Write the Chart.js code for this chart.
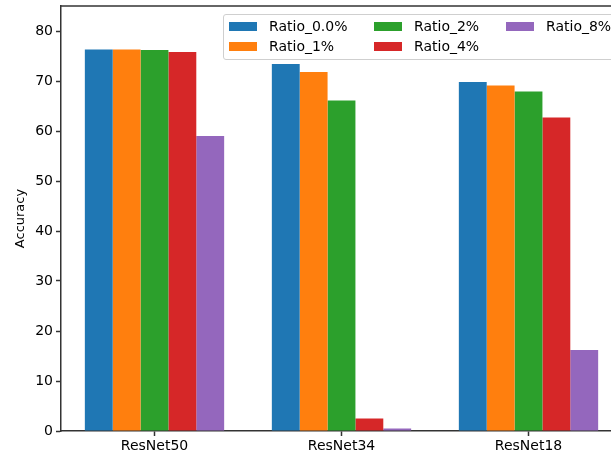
<!DOCTYPE html>
<html>
<head>
<meta charset="utf-8">
<script src="https://cdn.jsdelivr.net/npm/chart.js@4/dist/chart.umd.min.js"></script>
<style>
    html, body { margin: 0; padding: 0; background: #fff; overflow: hidden; }
    #wrap { position: relative; width: 611px; height: 458px; overflow: hidden; }
    #box { position: absolute; left: 0; top: 0; width: 626px; height: 458px; }
    .legend {
        position: absolute; left: 223px; top: 14px; width: 396px; height: 44px;
        border: 1px solid #cfcfcf; border-radius: 3px; background: rgba(255,255,255,0.85);
        font-family: "DejaVu Sans", sans-serif; font-size: 14px; color: #000;
    }
    .item { position: absolute; height: 20px; line-height: 20px; white-space: nowrap; }
    .item span.sw { position: absolute; left: 0; top: 6px; width: 28px; height: 9px; }
    .item span.tx { position: absolute; left: 40px; top: 0; }
</style>
</head>
<body>
<div id="wrap">
    <div id="box"><canvas id="accChart"></canvas></div>
    <div class="legend" id="legend"></div>
</div>
<script>
// categories and series (accuracy, %)
const models = ['ResNet50', 'ResNet34', 'ResNet18'];
const seriesNames = ['Ratio_0.0%', 'Ratio_1%', 'Ratio_2%', 'Ratio_4%', 'Ratio_8%'];
const ratio0 = [76.3, 73.4, 69.8];
const ratio1 = [76.3, 71.8, 69.1];
const ratio2 = [76.2, 66.1, 67.9];
const ratio4 = [75.8, 2.5, 62.7];
const ratio8 = [59.0, 0.5, 16.2];
const yTicks = [0, 10, 20, 30, 40, 50, 60, 70, 80];

const colors = ['#1f77b4', '#ff7f0e', '#2ca02c', '#d62728', '#9467bd'];
const seriesValues = [ratio0, ratio1, ratio2, ratio4, ratio8];
const axisColor = '#333';
const font = { family: 'DejaVu Sans', size: 14 };

// top spine (right one falls outside the crop)
const frame = {
    id: 'frame',
    afterDraw(chart) {
        const { ctx, chartArea: a } = chart;
        ctx.save();
        ctx.strokeStyle = axisColor;
        ctx.lineWidth = 1.5;
        ctx.beginPath();
        ctx.moveTo(a.left, a.top);
        ctx.lineTo(a.right, a.top);
        ctx.stroke();
        ctx.restore();
    }
};

const chart = new Chart(document.getElementById('accChart'), {
    type: 'bar',
    data: {
        labels: models,
        datasets: seriesNames.map((name, i) => ({
            label: name,
            data: seriesValues[i],
            backgroundColor: colors[i],
            borderWidth: 0,
            barPercentage: 1.0,
            categoryPercentage: 0.745
        }))
    },
    options: {
        responsive: true,
        maintainAspectRatio: false,
        animation: false,
        layout: { padding: { top: 6, right: 4, left: 0, bottom: 0 } },
        plugins: {
            legend: { display: false },
            tooltip: { enabled: false }
        },
        scales: {
            x: {
                grid: { display: true, offset: false, drawOnChartArea: false, tickLength: 5, tickColor: axisColor, tickWidth: 1.5 },
                border: { display: true, color: axisColor, width: 1.5 },
                ticks: { color: '#000', font: font, padding: 2, maxRotation: 0 },
                afterFit(scale) {
                    scale.height = 27;
                    scale.paddingLeft = 0;
                    scale.paddingRight = 0;
                }
            },
            y: {
                min: 0,
                max: 85,
                grid: { display: true, drawOnChartArea: false, tickLength: 5, tickColor: axisColor, tickWidth: 1.5 },
                border: { display: true, color: axisColor, width: 1.5 },
                ticks: { color: '#000', font: font, padding: 3 },
                afterBuildTicks(scale) { scale.ticks = yTicks.map(v => ({ value: v })); },
                title: {
                    display: true,
                    text: 'Accuracy',
                    color: '#000',
                    font: { family: 'DejaVu Sans', size: 13 },
                    padding: { top: 13, bottom: 0 }
                },
                afterFit(scale) {
                    scale.width = 61;
                    scale.paddingTop = 0;
                    scale.paddingBottom = 0;
                }
            }
        }
    },
    plugins: [frame]
});

// legend laid out column-first like the original
const legendEl = document.getElementById('legend');
const colX = [5, 150, 282];
const rowY = [1, 21];
seriesNames.forEach((name, i) => {
    const col = Math.floor(i / 2), row = i % 2;
    const it = document.createElement('div');
    it.className = 'item';
    it.style.left = colX[col] + 'px';
    it.style.top = rowY[row] + 'px';
    it.innerHTML = '<span class="sw" style="background:' + colors[i] + '"></span><span class="tx">' + name + '</span>';
    legendEl.appendChild(it);
});
</script>
</body>
</html>
